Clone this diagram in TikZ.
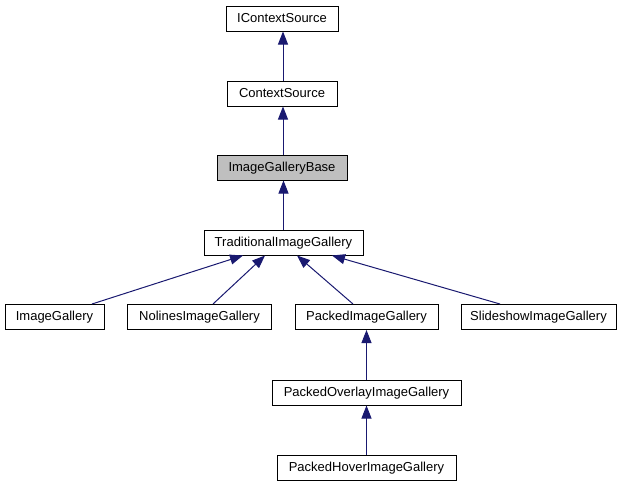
\documentclass[tikz,border=0pt]{standalone}
\usepackage{fontspec}
\setmainfont{Liberation Sans}
\usetikzlibrary{arrows.meta}
\definecolor{edgeblue}{RGB}{25,25,112}
\definecolor{basegray}{RGB}{191,191,191}
\tikzset{
  cls/.style={draw=black, line width=1pt, fill=white, inner sep=0pt, minimum height=25pt,
    font=\fontsize{13}{15}\selectfont, text height=9.5pt, text depth=2.5pt},
  inh/.style={draw=edgeblue, line width=1pt, -{Triangle[length=13pt,width=10pt,fill=edgeblue]}}
}
\begin{document}
\begin{tikzpicture}[x=1pt,y=-1pt]
\useasboundingbox (0,0) rectangle (625,485);
\node[cls, minimum width=112pt] (ics) at (282,18.5) {IContextSource};
\node[cls, minimum width=110pt] (cs) at (282,93.5) {ContextSource};
\node[cls, minimum width=130pt, fill=basegray] (igb) at (282,167.5) {ImageGalleryBase};
\node[cls, minimum width=159pt] (trad) at (283.5,242.5) {TraditionalImageGallery};
\node[cls, minimum width=99pt] (ig) at (54.5,317) {ImageGallery};
\node[cls, minimum width=144pt] (nl) at (199.5,317) {NolinesImageGallery};
\node[cls, minimum width=143pt] (pk) at (366.5,317) {PackedImageGallery};
\node[cls, minimum width=155pt] (ss) at (538.5,317) {SlideshowImageGallery};
\node[cls, minimum width=189pt] (po) at (366.5,392.5) {PackedOverlayImageGallery};
\node[cls, minimum width=179pt] (ph) at (366.5,467.5) {PackedHoverImageGallery};
\draw[inh] ([xshift=1pt]cs.north) -- ([xshift=1pt]ics.south);
\draw[inh] ([xshift=1pt]igb.north) -- ([xshift=1pt]cs.south);
\draw[inh] (trad.north) -- ([xshift=1.5pt]igb.south);
\draw[inh] ([xshift=37.5pt]ig.north) -- ([xshift=-40.5pt]trad.south);
\draw[inh] ([xshift=13.5pt]nl.north) -- ([xshift=-18.5pt]trad.south);
\draw[inh] ([xshift=-13.5pt]pk.north) -- ([xshift=13.5pt]trad.south);
\draw[inh] ([xshift=-38.5pt]ss.north) -- ([xshift=48.5pt]trad.south);
\draw[inh] (po.north) -- (pk.south);
\draw[inh] (ph.north) -- (po.south);
\end{tikzpicture}
\end{document}
